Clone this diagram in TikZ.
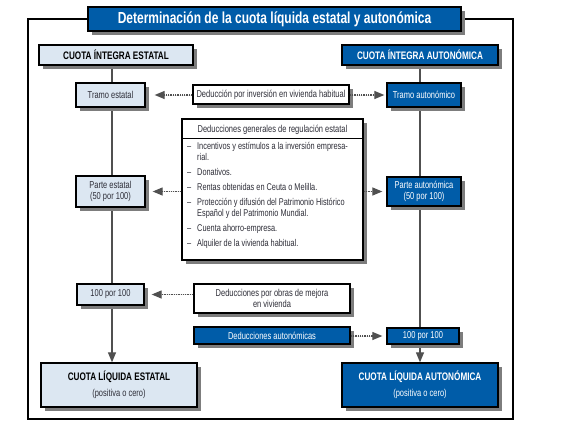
\documentclass[tikz,border=0pt]{standalone}
\usepackage{fontspec}
\setmainfont{Liberation Sans}[FakeStretch=0.75]
\usetikzlibrary{shadows,arrows.meta,backgrounds}
\definecolor{darkblue}{RGB}{0,92,168}
\definecolor{lightblue}{RGB}{220,231,242}
\definecolor{shadowgray}{RGB}{125,125,125}
\definecolor{linegray}{RGB}{80,80,80}
\definecolor{txtgray}{RGB}{45,45,55}
\tikzset{
  box/.style={draw=black, line width=1.3pt, inner sep=0pt, align=center,
    drop shadow={shadow xshift=3.5pt, shadow yshift=-3.5pt, fill=shadowgray, opacity=1}},
  lightbox/.style={box, fill=lightblue, text=txtgray},
  darkbox/.style={box, fill=darkblue, text=white},
  plainbox/.style={box, fill=white, text=txtgray},
  txt/.style={font=\fontsize{10}{11.5}\selectfont},
  hdr/.style={font=\fontsize{10.9}{12}\bfseries\selectfont},
  link/.style={draw=linegray, line width=1.2pt},
  tip/.style={-{Triangle[length=10pt,width=8pt]}},
  dots/.style={draw=linegray, line width=1.2pt, dash pattern=on 1.3pt off 1pt,
    tip, fill=linegray}
}
\begin{document}
\begin{tikzpicture}[x=1pt,y=-1pt]
\useasboundingbox (0,0) rectangle (570,431);
% frame
\node[draw=black, line width=1.5pt, minimum width=485pt, minimum height=400pt, inner sep=0pt] (frame) at (270.5,219) {};
% title
\node[darkbox, line width=1.8pt, minimum width=373pt, minimum height=24pt,
  font=\fontsize{16}{18}\bfseries\selectfont] (title) at (274.5,19) {Determinación de la cuota líquida estatal y autonómica};
% column heads
\node[lightbox, text=black, hdr, minimum width=154pt, minimum height=20pt] (cie) at (116,55) {CUOTA ÍNTEGRA ESTATAL};
\node[darkbox, hdr, minimum width=156pt, minimum height=20pt] (cia) at (420,55) {CUOTA ÍNTEGRA AUTONÓMICA};
% left column
\node[lightbox, txt, minimum width=69pt, minimum height=24pt] (tramoE) at (110.5,95) {Tramo estatal};
\node[lightbox, txt, minimum width=69pt, minimum height=31pt] (parteE) at (110.5,191.5) {Parte estatal\\(50 por 100)};
\node[lightbox, txt, minimum width=67pt, minimum height=21pt] (cienL) at (110.5,294.5) {100 por 100};
\node[lightbox, minimum width=156pt, minimum height=44pt] (cle) at (119,385)
  {{\fontsize{10.9}{12}\bfseries\selectfont\color{black}CUOTA LÍQUIDA ESTATAL}\\[4pt]{\fontsize{10}{11}\selectfont(positiva o cero)}};
% right column
\node[darkbox, txt, minimum width=74pt, minimum height=24pt] (tramoA) at (424,95) {Tramo autonómico};
\node[darkbox, txt, minimum width=74pt, minimum height=29pt] (parteA) at (424,191.5) {Parte autonómica\\(50 por 100)};
\node[darkbox, txt, minimum width=72pt, minimum height=16pt] (cienR) at (423,336) {100 por 100};
\node[darkbox, minimum width=156pt, minimum height=44pt] (cla) at (420,385)
  {{\fontsize{10.9}{12}\bfseries\selectfont CUOTA LÍQUIDA AUTONÓMICA}\\[4pt]{\fontsize{10}{11}\selectfont(positiva o cero)}};
% middle
\node[plainbox, txt, minimum width=156pt, minimum height=19pt] (dedInv) at (271,94.5) {Deducción por inversión en vivienda habitual};
\node[plainbox, minimum width=181pt, minimum height=141pt] (dg) at (272.5,189.5) {};
\node[txt, text=txtgray, inner sep=0pt] (dgh) at (272.5,129.5) {Deducciones generales de regulación estatal};
\draw[line width=1pt] (dg.north west) ++(0,20) coordinate (sepL) -- (sepL -| dg.east);
\node[anchor=north west, inner sep=0pt, text=txtgray, align=left,
  font=\fontsize{9.8}{11}\selectfont] (dgl) at (187,142) {%
  \begin{tabular}{@{}p{10pt}@{}l@{}}
  – & Incentivos y estímulos a la inversión empresa-\\
    & rial.\\[4pt]
  – & Donativos.\\[4pt]
  – & Rentas obtenidas en Ceuta o Melilla.\\[4pt]
  – & Protección y difusión del Patrimonio Histórico\\
    & Español y del Patrimonio Mundial.\\[4pt]
  – & Cuenta ahorro-empresa.\\[4pt]
  – & Alquiler de la vivienda habitual.
  \end{tabular}};
\node[plainbox, txt, minimum width=156pt, minimum height=29pt] (obras) at (272,298.5) {Deducciones por obras de mejora\\en vivienda};
\node[darkbox, txt, minimum width=156pt, minimum height=17pt] (dedAut) at (272,335.5) {Deducciones autonómicas};
% vertical lines
\coordinate (lx) at (112,0);
\coordinate (rx) at (420,0);
\begin{scope}[on background layer]
\draw[link, tip, fill=linegray] (lx |- cie.south) -- (lx |- cle.north);
\draw[link, tip, fill=linegray] (rx |- cia.south) -- (rx |- cla.north);
\end{scope}
% dotted arrows
\draw[dots] (dedInv.west |- tramoE) -- ([xshift=9pt]tramoE.east);
\draw[dots] (dedInv.east |- tramoA) -- ([xshift=-2pt]tramoA.west);
\draw[dots] (dg.west |- parteE) -- ([xshift=7pt]parteE.east);
\draw[dots] (dg.east |- parteA) -- ([xshift=-4pt]parteA.west);
\draw[dots] (obras.west |- cienL) -- ([xshift=7pt]cienL.east);
\draw[dots] (dedAut.east |- cienR) -- ([xshift=-4pt]cienR.west);
\end{tikzpicture}
\end{document}
